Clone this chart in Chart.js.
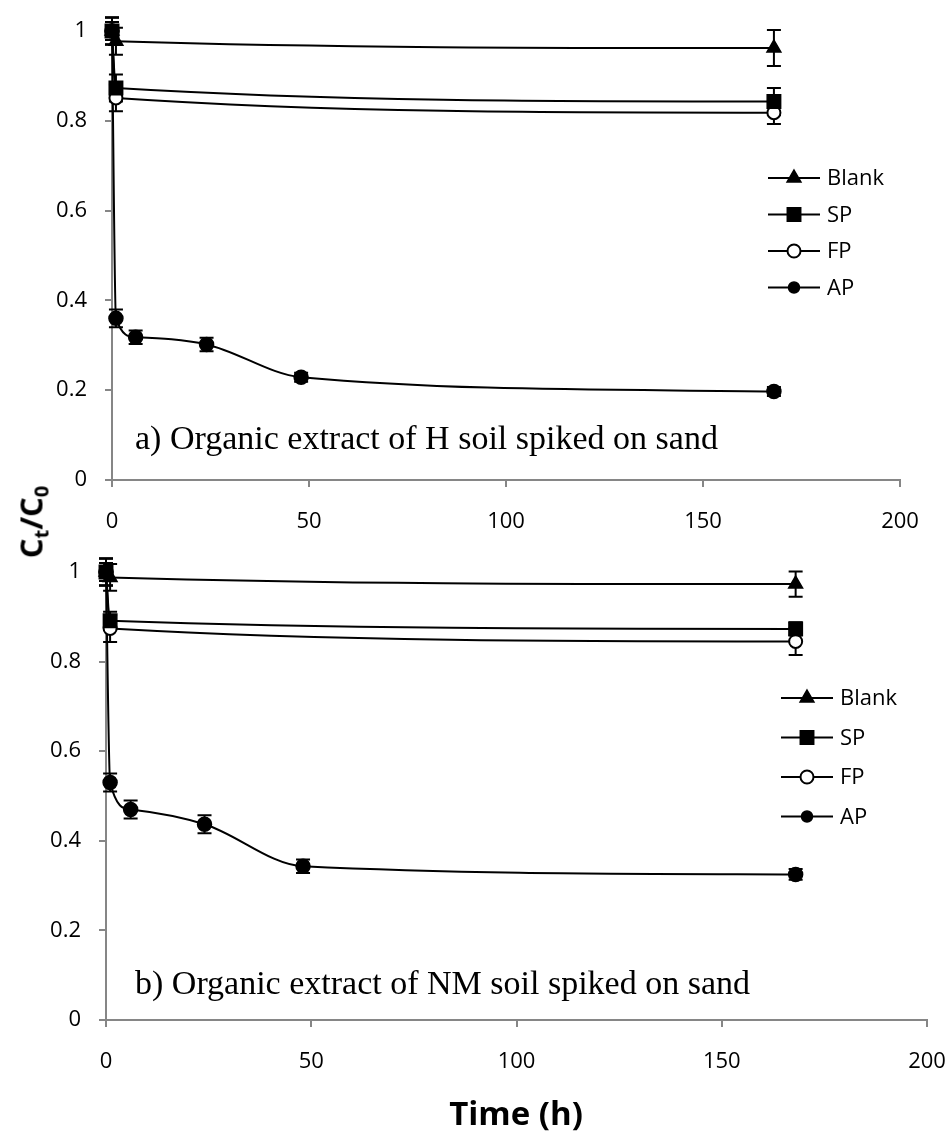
<!DOCTYPE html>
<html>
<head>
<meta charset="utf-8">
<script src="https://cdn.jsdelivr.net/npm/chart.js@4.4.0/dist/chart.umd.min.js"></script>
<style>
  body { margin: 0; background: #fff; width: 948px; height: 1135px; position: relative; overflow: hidden; font-family: 'Open Sans', sans-serif; }
  .wrap { position: absolute; left: 0; width: 948px; }
  #wrapA { top: 0; height: 545px; }
  #wrapB { top: 545px; height: 590px; }
  .ytitle { position: absolute; left: 32px; top: 522px; transform: translate(-50%, -50%) rotate(-90deg); font-weight: bold; font-size: 31px; white-space: nowrap; color: #000; }
  .ytitle sub { font-size: 20px; vertical-align: -6px; }
  .xtitle { position: absolute; left: 516px; top: 1112px; transform: translate(-50%, -50%); font-weight: bold; font-size: 33px; color: #000; }
</style>
</head>
<body>
<div class="wrap" id="wrapA"><canvas id="chartA" width="948" height="545"></canvas></div>
<div class="wrap" id="wrapB"><canvas id="chartB" width="948" height="590"></canvas></div>
<div class="ytitle">C<sub>t</sub>/C<sub>0</sub></div>
<div class="xtitle">Time (h)</div>
<script>
// sampling times (h)
const shortTimes = [0, 1, 168];
const apTimes = [0, 1, 6, 24, 48, 168];
const xTicks = [0, 50, 100, 150, 200];
const yTicks = [0, 0.2, 0.4, 0.6, 0.8, 1];
const seriesNames = ['Blank', 'SP', 'FP', 'AP'];

// panel a) H soil extract
const blankA = [1.0, 0.977, 0.962];
const blankErrA = [0.03, 0.03, 0.04];
const spA = [1.0, 0.873, 0.843];
const spErrA = [0.03, 0.03, 0.03];
const fpA = [1.0, 0.851, 0.818];
const fpErrA = [0.03, 0.03, 0.025];
const apA = [1.0, 0.36, 0.318, 0.302, 0.229, 0.197];
const apErrA = [0.02, 0.02, 0.015, 0.015, 0.01, 0.01];

// panel b) NM soil extract
const blankB = [1.0, 0.988, 0.973];
const blankErrB = [0.03, 0.03, 0.028];
const spB = [1.0, 0.891, 0.873];
const spErrB = [0.03, 0.02, 0.015];
const fpB = [1.0, 0.874, 0.845];
const fpErrB = [0.03, 0.03, 0.03];
const apB = [1.0, 0.53, 0.47, 0.437, 0.343, 0.325];
const apErrB = [0.02, 0.02, 0.02, 0.02, 0.015, 0.012];

const toPoints = (xs, ys) => xs.map((x, i) => ({ x: x, y: ys[i] }));

// vertical error bars, drawn under the markers
const errorBars = {
  id: 'errorBars',
  beforeDatasetsDraw(chart) {
    const ctx = chart.ctx;
    const yScale = chart.scales.y;
    chart.data.datasets.forEach((ds, i) => {
      if (!ds.errors) return;
      const meta = chart.getDatasetMeta(i);
      ctx.save();
      ctx.strokeStyle = '#000';
      ctx.lineWidth = 2;
      meta.data.forEach((pt, j) => {
        const e = ds.errors[j];
        if (!e) return;
        const v = ds.data[j].y;
        const yTop = yScale.getPixelForValue(v + e);
        const yBot = yScale.getPixelForValue(v - e);
        ctx.beginPath();
        ctx.moveTo(pt.x, yTop); ctx.lineTo(pt.x, yBot);
        ctx.moveTo(pt.x - 7, yTop); ctx.lineTo(pt.x + 7, yTop);
        ctx.moveTo(pt.x - 7, yBot); ctx.lineTo(pt.x + 7, yBot);
        ctx.stroke();
      });
      ctx.restore();
    });
  }
};

// Excel-style legend sitting inside the plot
const insideLegend = {
  id: 'insideLegend',
  afterDraw(chart, args, opts) {
    const ctx = chart.ctx;
    chart.data.datasets.forEach((ds, i) => {
      const y = opts.y + i * opts.gap;
      ctx.save();
      ctx.strokeStyle = '#000';
      ctx.lineWidth = 2;
      ctx.beginPath();
      ctx.moveTo(opts.x, y);
      ctx.lineTo(opts.x + opts.len, y);
      ctx.stroke();
      ctx.fillStyle = ds.pointBackgroundColor;
      ctx.lineWidth = ds.pointBorderWidth;
      Chart.helpers.drawPoint(ctx, {
        pointStyle: ds.pointStyle, radius: ds.legendRadius, borderWidth: ds.pointBorderWidth, rotation: 0
      }, opts.x + opts.len / 2, y);
      ctx.fillStyle = '#000';
      ctx.font = '22px "Open Sans"';
      ctx.textBaseline = 'middle';
      ctx.fillText(ds.label, opts.x + opts.len + 7, y + 1);
      ctx.restore();
    });
  }
};

// panel caption
const caption = {
  id: 'caption',
  afterDraw(chart, args, opts) {
    const ctx = chart.ctx;
    ctx.save();
    ctx.fillStyle = '#000';
    ctx.font = '34px "Liberation Serif"';
    ctx.textBaseline = 'middle';
    ctx.fillText(opts.text, opts.x, opts.y);
    ctx.restore();
  }
};

function makeDatasets(blank, blankErr, sp, spErr, fp, fpErr, ap, apErr) {
  const base = {
    borderColor: '#000', borderWidth: 2, pointBorderColor: '#000', pointBorderWidth: 1.5,
    cubicInterpolationMode: 'monotone', clip: false
  };
  return [
    Object.assign({}, base, { label: seriesNames[0], data: toPoints(shortTimes, blank), errors: blankErr,
      pointStyle: 'triangle', pointRadius: 8, legendRadius: 8, pointBackgroundColor: '#000' }),
    Object.assign({}, base, { label: seriesNames[1], data: toPoints(shortTimes, sp), errors: spErr,
      pointStyle: 'rect', pointRadius: 9.5, legendRadius: 9.5, pointBackgroundColor: '#000' }),
    Object.assign({}, base, { label: seriesNames[2], data: toPoints(shortTimes, fp), errors: fpErr,
      pointStyle: 'circle', pointRadius: 6.5, legendRadius: 6.5, pointBackgroundColor: '#fff', pointBorderWidth: 2 }),
    Object.assign({}, base, { label: seriesNames[3], data: toPoints(apTimes, ap), errors: apErr,
      pointStyle: 'circle', pointRadius: 7, legendRadius: 5.5, pointBackgroundColor: '#000' })
  ];
}

function makeOptions(p) {
  const tickFont = { family: 'Open Sans', size: 22 };
  return {
    responsive: false,
    animation: false,
    layout: { padding: { left: 0, top: p.top, right: p.right, bottom: 0 } },
    plugins: {
      legend: { display: false },
      tooltip: { enabled: false },
      insideLegend: p.legend,
      caption: p.caption
    },
    scales: {
      x: {
        type: 'linear', min: 0, max: 200,
        afterBuildTicks: s => { s.ticks = xTicks.map(v => ({ value: v })); },
        afterFit: s => { s.height = p.xHeight; s.paddingLeft = 0; s.paddingRight = 0; },
        grid: { drawOnChartArea: false, drawTicks: true, tickLength: 7, color: '#868686', lineWidth: 2 },
        border: { color: '#868686', width: 2 },
        ticks: { color: '#000', font: tickFont, padding: 22, maxRotation: 0 }
      },
      y: {
        min: 0, max: 1,
        afterBuildTicks: s => { s.ticks = yTicks.map(v => ({ value: v })); },
        afterFit: s => { s.width = p.yWidth; s.paddingTop = 0; s.paddingBottom = 0; },
        grid: { drawOnChartArea: false, drawTicks: true, tickLength: 7, color: '#868686', lineWidth: 2 },
        border: { color: '#868686', width: 2 },
        ticks: { color: '#000', font: tickFont, padding: 18, callback: v => String(Math.round(v * 10) / 10) }
      }
    }
  };
}

new Chart(document.getElementById('chartA'), {
  type: 'line',
  data: { datasets: makeDatasets(blankA, blankErrA, spA, spErrA, fpA, fpErrA, apA, apErrA) },
  options: makeOptions({
    top: 31, right: 48, xHeight: 65, yWidth: 112,
    legend: { x: 768, y: 178, gap: 36.5, len: 52 },
    caption: { text: 'a) Organic extract of H soil spiked on sand', x: 135, y: 440 }
  }),
  plugins: [errorBars, insideLegend, caption]
});

new Chart(document.getElementById('chartB'), {
  type: 'line',
  data: { datasets: makeDatasets(blankB, blankErrB, spB, spErrB, fpB, fpErrB, apB, apErrB) },
  options: makeOptions({
    top: 27, right: 21, xHeight: 115, yWidth: 106,
    legend: { x: 781, y: 153, gap: 39.5, len: 52 },
    caption: { text: 'b) Organic extract of NM soil spiked on sand', x: 135, y: 440 }
  }),
  plugins: [errorBars, insideLegend, caption]
});
</script>
</body>
</html>
